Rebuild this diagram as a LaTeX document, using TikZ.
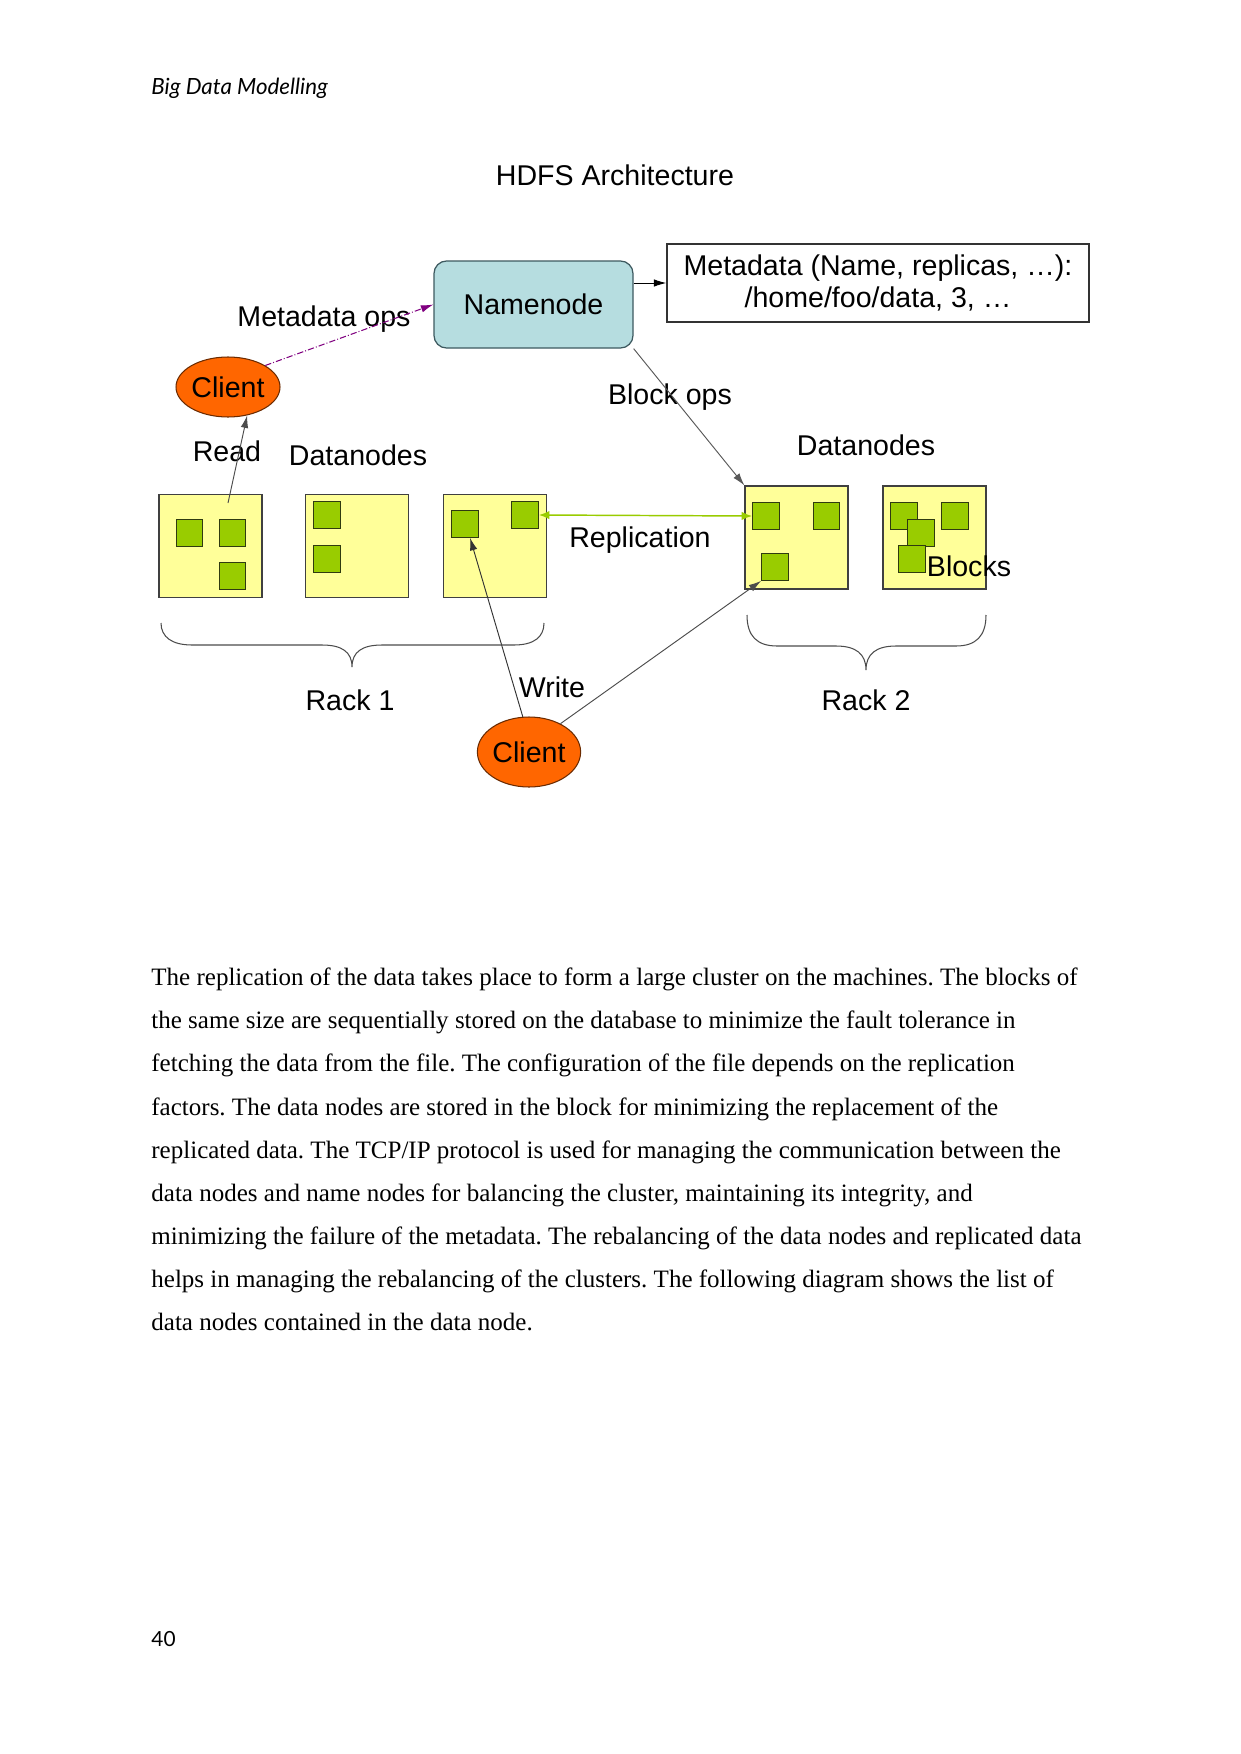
\documentclass[tikz,border=0pt]{standalone}
\usepackage{fontspec}
\setmainfont{Liberation Serif}
\newfontfamily\labfont{Liberation Sans}
\newfontfamily\latofont{Lato}
\usetikzlibrary{shapes.geometric,arrows.meta}
\frenchspacing
\newcommand\pxu{0.4797pt}
\newcommand\labsize{\labfont\fontsize{13.7}{15.8}\selectfont}
\definecolor{dnyellow}{HTML}{FFFF99}
\definecolor{blkgreen}{HTML}{99CC00}
\definecolor{blkborder}{HTML}{2F3A10}
\definecolor{nnblue}{HTML}{B6DDE0}
\definecolor{nnborder}{HTML}{3E5A60}
\definecolor{clorange}{HTML}{FF6600}
\definecolor{clborder}{HTML}{6A2A00}
\definecolor{mdpurple}{HTML}{800080}
\tikzset{
  lbl/.style={font=\labsize, anchor=base, inner sep=0pt},
  bodyline/.style={font=\fontsize{12}{20.7}\selectfont, anchor=base west, inner sep=0pt},
  dnbox/.style={draw=black!75, fill=dnyellow, line width=0.6pt, minimum width=103*\pxu, minimum height=103*\pxu, inner sep=0pt},
  blk/.style={draw=blkborder, fill=blkgreen, line width=0.6pt, minimum width=26.5*\pxu, minimum height=26.5*\pxu, inner sep=0pt},
  clientnode/.style={ellipse, draw=clborder, fill=clorange, line width=0.5pt, inner sep=0pt, font=\labsize},
  arr/.style={-{Latex[length=6pt,width=3.6pt]}, line width=0.45pt},
  bracestyle/.style={draw=black!70, line width=0.5pt},
}
\begin{document}
\begin{tikzpicture}[x=0.4797pt,y=-0.4797pt]
\useasboundingbox (0,0) rectangle (1241,1754);
\fill[white] (0,0) rectangle (1241,1754);

% header and page number
\node[anchor=base west, inner sep=0pt, font=\latofont\itshape\fontsize{10.7}{12}\selectfont] (header) at (151,95) {Big Data Modelling};
\node[anchor=base west, inner sep=0pt, font=\latofont\fontsize{10}{12}\selectfont] (pagenum) at (151,1646) {40};

% title
\node[lbl] (title) at (615,185) {HDFS Architecture};

% namenode and metadata
\node[draw=nnborder, fill=nnblue, rounded corners=6pt, line width=0.6pt, minimum width=199*\pxu, minimum height=87*\pxu, inner sep=0pt, font=\labsize] (nn) at (533.5,304.5) {Namenode};
\node[draw=black!80, line width=0.6pt, minimum width=422*\pxu, minimum height=78*\pxu, inner sep=0pt, font=\labsize, align=center] (meta) at (878,283) {Metadata (Name, replicas, \dots):\\/home/foo/data, 3, \dots};

% clients
\node[clientnode, minimum width=104*\pxu, minimum height=60*\pxu] (c1) at (228,387) {Client};
\node[clientnode, minimum width=103*\pxu, minimum height=70*\pxu] (c2) at (529,752) {Client};

% datanodes
\node[dnbox] (dn1) at (210.5,546) {};
\node[dnbox] (dn2) at (357,546) {};
\node[dnbox] (dn3) at (495,546) {};
\node[dnbox] (dn4) at (796.5,537.5) {};
\node[dnbox] (dn5) at (934.5,537.5) {};

% blocks
\node[blk] (s11) at (189.5,533) {};
\node[blk] (s12) at (232.5,533) {};
\node[blk] (s13) at (232.5,576) {};
\node[blk] (s21) at (327,515) {};
\node[blk] (s22) at (327,559) {};
\node[blk] (s31) at (465,524) {};
\node[blk] (s32) at (525,515) {};
\node[blk] (s41) at (766,516) {};
\node[blk] (s42) at (826.5,516) {};
\node[blk] (s43) at (775,567) {};
\node[blk] (s51) at (904,516) {};
\node[blk] (s52) at (921,533) {};
\node[blk] (s53) at (912,559) {};
\node[blk] (s54) at (955,516) {};

% labels
\node[lbl] (lmeta) at (324,326) {Metadata ops};
\node[lbl] (lread) at (227,461) {Read};
\node[lbl] (ldn1) at (358,465) {Datanodes};
\node[lbl] (lblock) at (670,404) {Block ops};
\node[lbl] (ldn2) at (866,455) {Datanodes};
\node[lbl] (lrepl) at (640,547) {Replication};
\node[lbl] (lblocks) at (969,576) {Blocks};
\node[lbl] (lrack1) at (350,710) {Rack 1};
\node[lbl] (lrack2) at (866,710) {Rack 2};
\node[lbl] (lwrite) at (552,697) {Write};

% connectors
\draw[arr, mdpurple, densely dashdotted, line width=0.5pt] (c1.30) -- (nn.west);
\draw[arr] (nn.east |- meta.west) -- (meta.west);
\draw[arr, draw=black!65] (nn.south east) -- (dn4.north west);
\coordinate (rd) at (228,503);
\draw[arr, draw=black!70] (rd) -- (c1.-56);
\draw[arr, draw=black!80] (c2.100) -- (s31.-70);
\draw[arr, draw=black!70] (c2.42) -- (s43.south west);
\draw[{Latex[length=5pt,width=4pt]}-{Latex[length=5pt,width=4pt]}, blkgreen, line width=0.7pt] (s32.east) -- (s41.west);

% braces
\draw[bracestyle] (161,623) .. controls (161,637) and (172,645) .. (192,645) -- (322,645) .. controls (342,645) and (352,652) .. (352,667) .. controls (352,652) and (362,645) .. (382,645) -- (514,645) .. controls (534,645) and (544,637) .. (544,623);
\draw[bracestyle] (747,615) .. controls (747,636) and (757,646) .. (777,646) -- (836,646) .. controls (856,646) and (866,654) .. (866,670) .. controls (866,654) and (876,646) .. (896,646) -- (956,646) .. controls (976,646) and (986,636) .. (986,615);

% body text
\node[bodyline] (b1) at (151,985) {The replication of the data takes place to form a large cluster on the machines. The blocks of};
\node[bodyline] (b2) at (151,1028) {the same size are sequentially stored on the database to minimize the fault tolerance in};
\node[bodyline] (b3) at (151,1071) {fetching the data from the file. The configuration of the file depends on the replication};
\node[bodyline] (b4) at (151,1115) {factors. The data nodes are stored in the block for minimizing the replacement of the};
\node[bodyline] (b5) at (151,1158) {replicated data. The TCP/IP protocol is used for managing the communication between the};
\node[bodyline] (b6) at (151,1201) {data nodes and name nodes for balancing the cluster, maintaining its integrity, and};
\node[bodyline] (b7) at (151,1244) {minimizing the failure of the metadata. The rebalancing of the data nodes and replicated data};
\node[bodyline] (b8) at (151,1287) {helps in managing the rebalancing of the clusters. The following diagram shows the list of};
\node[bodyline] (b9) at (151,1330) {data nodes contained in the data node.};
\end{tikzpicture}
\end{document}
